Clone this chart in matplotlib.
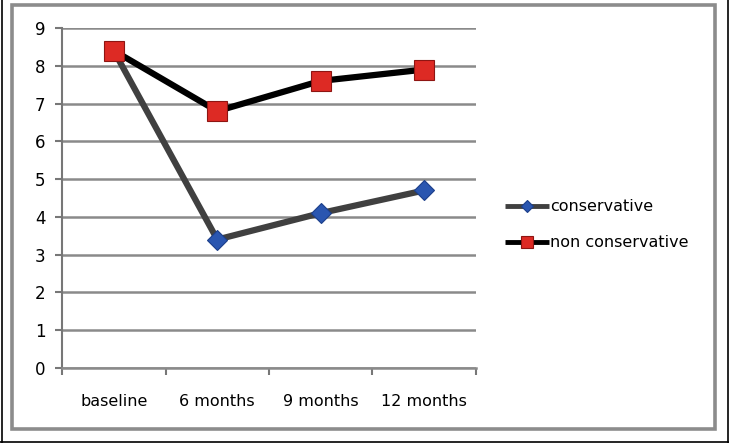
import matplotlib
matplotlib.use("Agg")
import matplotlib.pyplot as plt
from matplotlib.patches import Rectangle
from matplotlib.lines import Line2D

categories = ["baseline", "6 months", "9 months", "12 months"]
conservative = [8.4, 3.4, 4.1, 4.7]
non_conservative = [8.4, 6.8, 7.6, 7.9]

W, H = 729, 443
FONT = "DejaVu Sans"
fig = plt.figure(figsize=(W / 100, H / 100), dpi=100)


def px(x0, y0, x1, y1):
    # pixel box -> figure fraction rect
    return [x0 / W, 1 - y1 / H, (x1 - x0) / W, (y1 - y0) / H]


# outer black line + gray inner frame
fig.add_artist(Line2D([1.5 / W, 1.5 / W], [0, 1], color="black", lw=1.2))
fig.add_artist(Line2D([727.5 / W, 727.5 / W], [0, 1], color="black", lw=1.2))
fig.add_artist(Line2D([0, 1], [1 - 441.5 / H, 1 - 441.5 / H], color="black", lw=1.2))
b = px(12, 5, 715, 429)
fig.add_artist(Rectangle((b[0], b[1]), b[2], b[3], transform=fig.transFigure,
                         fill=False, edgecolor="#8c8c8c", lw=2.6))

ax = fig.add_axes(px(62, 28, 476, 368))
x = list(range(len(categories)))

ax.plot(x, conservative, color="#404040", lw=4.5, marker="D", markersize=10,
        markerfacecolor="#2a56b0", markeredgecolor="#1c3f8a", markeredgewidth=0.8,
        label="conservative", solid_capstyle="butt", zorder=3)
ax.plot(x, non_conservative, color="black", lw=4.5, marker="s", markersize=14,
        markerfacecolor="#dd2a24", markeredgecolor="#8e1512", markeredgewidth=0.8,
        label="non conservative", solid_capstyle="butt", zorder=4)

ax.set_xlim(-0.5, len(categories) - 0.5)
ax.set_ylim(0, 9)
ax.set_yticks(range(10))
ax.set_xticks([i - 0.5 for i in range(len(categories) + 1)], minor=False)
ax.set_xticklabels([])
ax.set_xticks(x, minor=True)
ax.set_xticklabels(categories, minor=True, fontsize=11.5, fontfamily=FONT)
ax.tick_params(axis="x", which="minor", length=0, pad=19)
ax.tick_params(axis="x", which="major", length=5, width=1.5, color="#777777", direction="out")
ax.tick_params(axis="y", length=5, width=1.5, color="#777777", labelsize=12, pad=7)
for lab in ax.get_yticklabels():
    lab.set_fontfamily(FONT)

ax.grid(axis="y", color="#8a8a8a", lw=1.8)
ax.set_axisbelow(True)
for s in ["top", "right"]:
    ax.spines[s].set_visible(False)
ax.spines["left"].set_color("#777777")
ax.spines["left"].set_linewidth(1.5)
ax.spines["bottom"].set_color("#8a8a8a")
ax.spines["bottom"].set_linewidth(1.8)

leg = fig.legend(loc="upper left", bbox_to_anchor=(491 / W, 1 - 185 / H),
                 frameon=False, handlelength=2.7, handletextpad=0.1,
                 labelspacing=1.3, markerscale=0.65,
                 prop={"family": FONT, "size": 11.5})
for h in leg.legend_handles:
    h.set_linewidth(3.5)

fig.savefig("out.png", dpi=100)
